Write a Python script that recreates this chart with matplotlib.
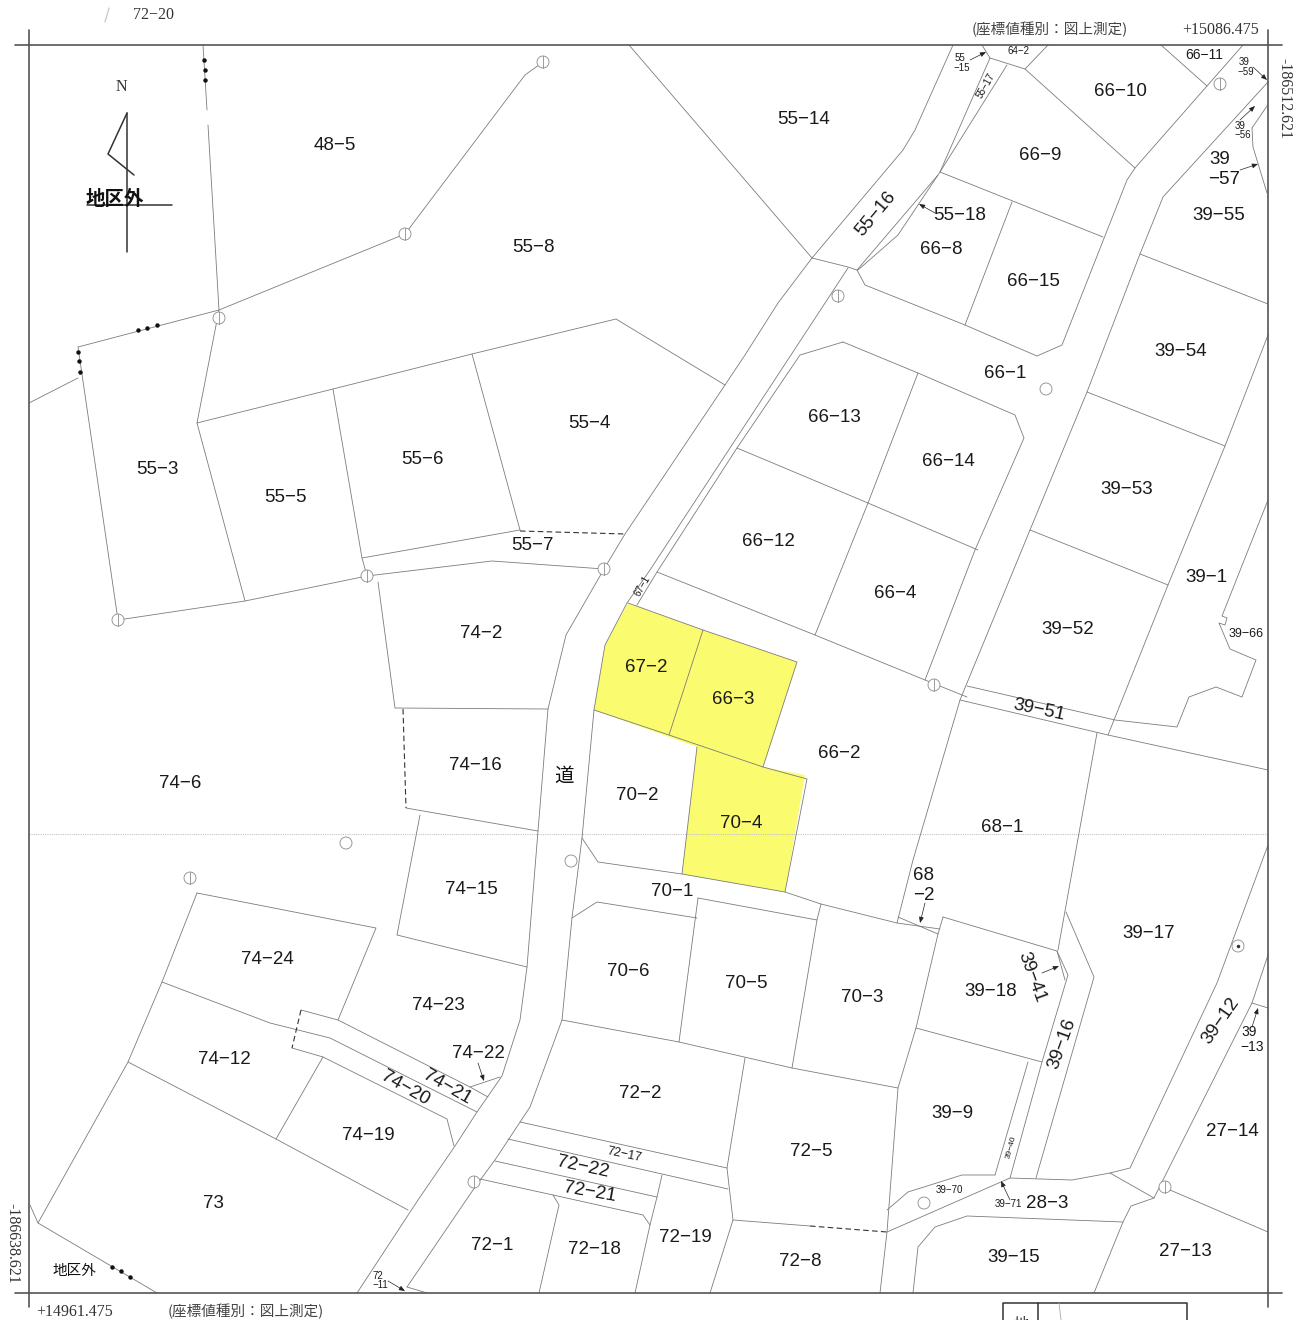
import matplotlib
matplotlib.use("Agg")
import matplotlib.pyplot as plt
from matplotlib.patches import Circle, Polygon

WIDTH, HEIGHT = 1303, 1320

frame_lines = [
    [(15, 45), (1282, 45)],
    [(15, 1293), (1282, 1293)],
    [(29, 30), (29, 1307)],
    [(1268, 30), (1268, 1307)],
]

highlight_parcels = [
    [(628, 603), (703, 630), (797, 662), (763, 767), (805, 775), (785, 892), (682, 874),
     (697, 747), (594, 710), (605, 645)],
]

boundaries = [
    # north west
    [(203, 45), (207, 110)],
    [(208, 125), (219, 310), (405, 234), (525, 75), (543, 62)],
    [(629, 45), (812, 258), (778, 303), (745, 355), (725, 385), (616, 319), (472, 354), (333, 389),
     (197, 423), (219, 310), (78, 347), (118, 620), (245, 601), (367, 576), (492, 561), (604, 569)],
    [(29, 403), (78, 378)],
    [(197, 423), (245, 601)],
    [(333, 389), (362, 558), (367, 576)],
    [(472, 354), (520, 530)],
    [(362, 558), (520, 530)],
    # road, west edge and east edge
    [(725, 385), (625, 534), (604, 569), (566, 635), (548, 709), (538, 831), (527, 967),
     (520, 1020), (502, 1076), (477, 1112), (455, 1146), (418, 1200), (357, 1293)],
    [(848, 268), (650, 570), (627, 603), (605, 645), (594, 710), (582, 838),
     (572, 918), (562, 1020), (530, 1107), (497, 1157), (473, 1190), (407, 1287)],
    [(407, 1287), (427, 1293)],
    # 74 block
    [(378, 582), (395, 708), (548, 709)],
    [(406, 808), (538, 831)],
    [(420, 815), (397, 935), (527, 967)],
    [(197, 893), (162, 982), (128, 1062), (38, 1223), (30, 1205)],
    [(197, 893), (376, 928), (338, 1020), (470, 1087), (488, 1097)],
    [(301, 1010), (338, 1020)],
    [(162, 982), (270, 1023), (330, 1038), (477, 1112)],
    [(292, 1048), (323, 1057), (447, 1119), (454, 1146)],
    [(323, 1057), (276, 1139)],
    [(128, 1062), (276, 1139), (408, 1210)],
    [(470, 1087), (500, 1077)],
    [(38, 1223), (157, 1293)],
    # yellow block and 70 block
    [(628, 603), (703, 630), (797, 662), (763, 767), (807, 779), (785, 892), (682, 874), (697, 747)],
    [(594, 710), (669, 735), (763, 767)],
    [(703, 630), (669, 735)],
    [(582, 838), (598, 862), (682, 874)],
    [(785, 892), (821, 904), (897, 923), (940, 929)],
    [(898, 917), (938, 934), (916, 1028), (898, 1088), (887, 1232), (880, 1293)],
    [(572, 918), (597, 902), (697, 918)],
    [(698, 898), (817, 920), (792, 1068)],
    [(698, 898), (679, 1042)],
    [(821, 904), (817, 920)],
    [(562, 1020), (679, 1042), (792, 1068), (898, 1088)],
    [(745, 1058), (727, 1168), (733, 1220), (710, 1293)],
    [(520, 1122), (727, 1168)],
    [(508, 1139), (728, 1189)],
    [(495, 1161), (657, 1197)],
    [(662, 1175), (657, 1197), (650, 1225), (635, 1293)],
    [(480, 1179), (553, 1195), (643, 1215), (650, 1225)],
    [(553, 1195), (559, 1205), (539, 1293)],
    [(733, 1220), (810, 1226)],
    # 39 block south
    [(943, 917), (1057, 951), (1068, 975), (1042, 1062), (1010, 1178)],
    [(943, 917), (938, 934)],
    [(1057, 951), (1065, 980)],
    [(916, 1028), (1042, 1062)],
    [(1028, 1062), (995, 1175)],
    [(1097, 733), (1058, 950)],
    [(1066, 912), (1094, 977), (1036, 1178)],
    [(887, 1232), (1010, 1178), (1072, 1180), (1110, 1173), (1130, 1168), (1217, 983), (1268, 845)],
    [(887, 1210), (908, 1192), (962, 1175), (995, 1175)],
    [(1110, 1173), (1154, 1198), (1131, 1206), (1123, 1222), (1094, 1293)],
    [(1154, 1198), (1173, 1160), (1252, 1003), (1268, 955)],
    [(1252, 1003), (1268, 1008)],
    [(1170, 1190), (1268, 1232)],
    [(913, 1293), (918, 1247), (935, 1227), (967, 1216), (1123, 1222)],
    # 66 block
    [(812, 258), (848, 267), (857, 270), (938, 175)],
    [(953, 45), (915, 130), (903, 150), (812, 258)],
    [(858, 270), (898, 235), (940, 172), (990, 58), (1025, 69), (1135, 168)],
    [(1007, 65), (940, 172)],
    [(982, 45), (990, 58)],
    [(1025, 69), (1048, 45)],
    [(1161, 45), (1207, 86)],
    [(1243, 45), (1135, 168), (1127, 180), (1062, 345), (1037, 356), (965, 325), (865, 285), (857, 270)],
    [(940, 172), (1103, 237)],
    [(1012, 202), (965, 325)],
    [(843, 342), (800, 355), (737, 448), (657, 572), (637, 605)],
    [(737, 448), (868, 503), (978, 550)],
    [(843, 342), (918, 373), (1015, 415), (1024, 438), (975, 550), (925, 680)],
    [(918, 373), (868, 503), (815, 635)],
    [(657, 572), (815, 635), (925, 680), (967, 697)],
    # 39 block north
    [(1268, 82), (1163, 197), (1140, 254), (1087, 392), (1030, 530), (960, 700), (913, 860), (897, 923)],
    [(1140, 254), (1268, 304)],
    [(1087, 392), (1225, 446)],
    [(1030, 530), (1168, 585)],
    [(1268, 335), (1225, 446), (1168, 585), (1108, 735)],
    [(1268, 500), (1222, 616), (1227, 618), (1225, 625), (1219, 623), (1230, 649), (1256, 660),
     (1242, 697), (1216, 687), (1189, 697), (1177, 727), (1115, 720), (967, 686)],
    [(960, 700), (1108, 735), (1268, 770)],
    [(1252, 128), (1267, 106)],
    [(1252, 128), (1253, 147), (1267, 193)],
]

dashed_boundaries = [
    [(520, 531), (625, 534)],
    [(403, 709), (406, 808)],
    [(301, 1010), (292, 1048)],
    [(810, 1226), (887, 1232)],
]

survey_marks_split = [(543, 62), (405, 234), (219, 318), (838, 296), (934, 685), (604, 569),
                      (367, 576), (118, 620), (190, 878), (474, 1182), (1220, 84), (1165, 1187)]
survey_marks_plain = [(1046, 389), (346, 843), (571, 861), (924, 1203)]
survey_marks_dot = [(1238, 946)]

fence_dots = [(204, 60), (205, 70), (205, 80), (138, 330), (147, 328), (157, 325), (78, 352),
              (79, 361), (80, 372), (112, 1267), (121, 1271), (130, 1277)]

north_mark = [
    [(127, 113), (127, 252)],
    [(127, 113), (108, 154), (134, 175)],
    [(87, 205), (172, 205)],
]

leaders = [
    ((935, 213), (919, 204)), ((970, 60), (986, 52)), ((1253, 67), (1267, 80)),
    ((1240, 120), (1255, 106)), ((1240, 170), (1258, 164)), ((925, 903), (920, 923)),
    ((1042, 973), (1059, 966)), ((1252, 1027), (1258, 1008)), ((478, 1063), (484, 1081)),
    ((388, 1281), (405, 1291)), ((1010, 1200), (1001, 1181)),
]

parcel_labels = [
    ("48-5", 335, 146), ("55-14", 804, 119), ("66-10", 1120, 92), ("66-9", 1040, 156),
    ("55-18", 960, 215), ("39-55", 1219, 216), ("55-8", 533, 248), ("66-8", 941, 250),
    ("66-15", 1033, 282), ("39-54", 1181, 351), ("66-1", 1005, 373), ("66-13", 834, 418),
    ("55-4", 589, 424), ("55-6", 422, 460), ("66-14", 948, 462), ("55-3", 157, 470),
    ("39-53", 1127, 489), ("55-5", 285, 497), ("66-12", 768, 542), ("55-7", 532, 545),
    ("39-1", 1206, 578), ("66-4", 895, 593), ("39-52", 1068, 630), ("74-2", 481, 634),
    ("67-2", 646, 668), ("66-3", 733, 700), ("66-2", 839, 754), ("74-16", 475, 765),
    ("74-6", 180, 783), ("70-2", 637, 796), ("70-4", 741, 823), ("68-1", 1002, 827),
    ("68", 924, 876), ("-2", 924, 895), ("74-15", 471, 889), ("70-1", 672, 892),
    ("39-17", 1149, 934), ("74-24", 267, 960), ("70-6", 628, 971), ("70-5", 746, 983),
    ("39-18", 991, 991), ("70-3", 862, 998), ("74-23", 438, 1006), ("74-22", 478, 1054),
    ("74-12", 224, 1059), ("72-2", 640, 1094), ("39-9", 952, 1113), ("27-14", 1232, 1132),
    ("74-19", 368, 1135), ("72-5", 811, 1151), ("73", 213, 1203), ("28-3", 1047, 1204),
    ("72-19", 685, 1238), ("72-1", 492, 1245), ("72-18", 594, 1250), ("27-13", 1185, 1251),
    ("39-15", 1014, 1257), ("72-8", 800, 1261), ("39", 1220, 159), ("-57", 1224, 179),
]

rotated_labels = [
    ("55-16", 876, 214, 50), ("39-51", 1039, 710, -12), ("74-20", 405, 1088, -30),
    ("74-21", 447, 1087, -30), ("72-22", 583, 1167, -12), ("72-21", 590, 1192, -10),
    ("39-41", 1032, 977, -70), ("39-16", 1062, 1044, 70), ("39-12", 1221, 1021, 55),
]

small_labels = [
    ("64-2", 1018, 51, 0, 7), ("55", 960, 58, 0, 7), ("-15", 962, 68, 0, 7),
    ("55-17", 986, 86, 60, 7), ("39", 1244, 62, 0, 7), ("-59", 1246, 72, 0, 7),
    ("39", 1240, 126, 0, 7), ("-56", 1243, 135, 0, 7), ("66-11", 1204, 55, 0, 10),
    ("67-1", 642, 586, 60, 7), ("39-66", 1246, 634, 0, 9), ("39", 1249, 1032, 0, 10),
    ("-13", 1252, 1047, 0, 10), ("72-17", 624, 1155, -12, 9), ("39-40", 1011, 1147, 75, 6),
    ("39-70", 949, 1190, 0, 7), ("39-71", 1008, 1204, 0, 7), ("72", 378, 1276, 0, 7),
    ("-11", 380, 1285, 0, 7),
]

serif_labels = [
    ("72-20", 154, 15, 0), ("N", 121, 87, 0), ("+15086.475", 1221, 30, 0),
    ("+14961.475", 75, 1312, 0), ("-186512.621", 1284, 98, -90), ("-186638.621", 12, 1243, -90),
]
survey_notes = [("(座標値種別：図上測定)", 1050, 29), ("(座標値種別：図上測定)", 246, 1311)]
outside_labels = [("地区外", 115, 199, 14, "bold"), ("地区外", 74, 1271, 10.5, "normal")]

LINE_COLOR = "#7c7c7c"
FRAME_COLOR = "#555555"
TEXT_COLOR = "#1a1a1a"
NUMBER_FONT = ["Liberation Sans", "DejaVu Sans"]
CJK = ["Noto Sans CJK JP", "DejaVu Sans"]


def draw_polyline(ax, pts, **kwargs):
    xs = [p[0] for p in pts]
    ys = [p[1] for p in pts]
    ax.plot(xs, ys, solid_capstyle="round", **kwargs)


def number_text(label):
    # lot numbers in the scan use a long dash
    return label.replace("-", "\u2212")


fig = plt.figure(figsize=(WIDTH / 100, HEIGHT / 100), dpi=100)
ax = fig.add_axes([0, 0, 1, 1])
ax.set_xlim(0, WIDTH)
ax.set_ylim(HEIGHT, 0)
ax.axis("off")

for parcel in highlight_parcels:
    ax.add_patch(Polygon(parcel, closed=True, facecolor="#fbfb70", edgecolor="none", zorder=1))

ax.plot([29, 1268], [834, 834], color="#c4c4c4", lw=0.8, ls=(0, (1, 1)), zorder=2)

for line in boundaries:
    draw_polyline(ax, line, color=LINE_COLOR, lw=0.6, zorder=3)
for line in dashed_boundaries:
    draw_polyline(ax, line, color="#333333", lw=0.8, ls=(0, (5, 3)), zorder=3)
for line in frame_lines:
    draw_polyline(ax, line, color=FRAME_COLOR, lw=1.2, zorder=4)
for line in north_mark:
    draw_polyline(ax, line, color="#333333", lw=1.1, zorder=4)
# faint smudge left of the 72-20 note
draw_polyline(ax, [(109, 8), (105, 22)], color="#cccccc", lw=1.0)

for x, y in survey_marks_split + survey_marks_plain + survey_marks_dot:
    ax.add_patch(Circle((x, y), 6, facecolor="white", edgecolor="#8a8a8a", lw=0.6, zorder=5))
for x, y in survey_marks_split:
    ax.plot([x, x], [y - 6, y + 6], color="#8a8a8a", lw=0.6, zorder=6)
for x, y in survey_marks_dot:
    ax.plot([x], [y], marker="o", ms=1.5, color="#333333", zorder=6)

ax.plot([p[0] for p in fence_dots], [p[1] for p in fence_dots], ls="none", marker="o", ms=2.2,
        color="#111111", zorder=6)

for start, end in leaders:
    ax.annotate("", xy=end, xytext=start, zorder=6,
                arrowprops=dict(arrowstyle="-|>,head_length=0.35,head_width=0.14", color="#222222",
                                lw=0.5, shrinkA=0, shrinkB=0))

for label, x, y in parcel_labels:
    ax.text(x, y, number_text(label), family=NUMBER_FONT, fontsize=13.5, color=TEXT_COLOR,
            ha="center", va="center", zorder=7)
for label, x, y, angle in rotated_labels:
    ax.text(x, y, number_text(label), family=NUMBER_FONT, fontsize=13.5, color=TEXT_COLOR, rotation=angle,
            rotation_mode="anchor", ha="center", va="center", zorder=7)
for label, x, y, angle, size in small_labels:
    ax.text(x, y, number_text(label), family=NUMBER_FONT, fontsize=size, color=TEXT_COLOR, rotation=angle,
            rotation_mode="anchor", ha="center", va="center", zorder=7)
for label, x, y, angle in serif_labels:
    ax.text(x, y, number_text(label) if label.startswith("7") else label, family="Liberation Serif",
            fontsize=11.5, color="#333333", rotation=angle, rotation_mode="anchor",
            ha="center", va="center", zorder=7)
for label, x, y in survey_notes:
    ax.text(x, y, label, family=CJK, fontsize=10.5, color="#444444", ha="center", va="center", zorder=7)
for label, x, y, size, weight in outside_labels:
    ax.text(x, y, label, family=CJK, fontsize=size, weight=weight, color="#111111",
            ha="center", va="center", zorder=7)
ax.text(564, 776, "道", family=CJK, fontsize=14, color="#111111", ha="center", va="center", zorder=7)

# title block cut off by the page edge
draw_polyline(ax, [(1003, 1320), (1003, 1303), (1187, 1303), (1187, 1320)], color="#333333", lw=1.1)
draw_polyline(ax, [(1038, 1303), (1038, 1320)], color="#333333", lw=1.1)
draw_polyline(ax, [(1059, 1303), (1061, 1320)], color="#aaaaaa", lw=0.6)
ax.text(1021, 1316, "地", family=CJK, fontsize=11, color="#222222", ha="center", va="top")

fig.savefig("out.png", dpi=100)
